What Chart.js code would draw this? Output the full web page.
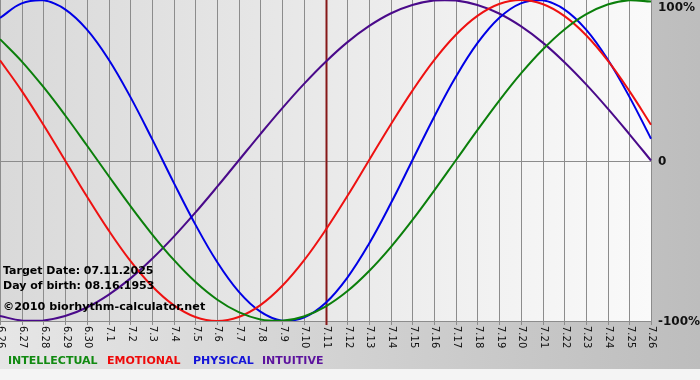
<!DOCTYPE html>
<html>
<head>
<meta charset="utf-8">
<script src="https://cdn.jsdelivr.net/npm/chart.js@4"></script>
<style>
html,body{margin:0;padding:0;background:#ffffff;}
canvas{display:block;}
</style>
</head>
<body>
<canvas id="c" width="700" height="380"></canvas>
<script>
// ---- Data (percent) ----
const days = ['6.26','6.27','6.28','6.29','6.30','7.1','7.2','7.3','7.4','7.5','7.6','7.7','7.8','7.9','7.10','7.11',
  '7.12','7.13','7.14','7.15','7.16','7.17','7.18','7.19','7.20','7.21','7.22','7.23','7.24','7.25','7.26'];
const intellectual = [75.6,61.8,45.8,28.2,9.5,-9.5,-28.2,-45.8,-61.8,-75.6,-86.6,-94.5,-99.0,-99.9,-97.2,-91.0,
  -81.5,-69.0,-54.1,-37.2,-18.9,0,18.9,37.2,54.1,69.0,81.5,91.0,97.2,99.9,99.0];
const emotional = [62.4,43.4,22.3,0,-22.3,-43.4,-62.4,-78.2,-90.1,-97.5,-100,-97.5,-90.1,-78.2,-62.4,-43.4,
  -22.3,0,22.3,43.4,62.4,78.2,90.1,97.5,100,97.5,90.1,78.2,62.4,43.4,22.3];
const physical = [88.8,97.9,99.8,94.2,81.7,63.1,39.8,13.6,-13.6,-39.8,-63.1,-81.7,-94.2,-99.8,-97.9,-88.8,
  -73.1,-52.0,-27.0,0,27.0,52.0,73.1,88.8,97.9,99.8,94.2,81.7,63.1,39.8,13.6];
const intuitive = [-96.9,-99.7,-99.7,-96.9,-91.6,-83.7,-73.6,-61.4,-47.6,-32.5,-16.5,0,16.5,32.5,47.6,61.4,
  73.6,83.7,91.6,96.9,99.7,99.7,96.9,91.6,83.7,73.6,61.4,47.6,32.5,16.5,0];
const yTickLabels = ['100%','0','-100%'];
const yTickValues = [100,0,-100];
const targetDay = '7.11';
const legendNames = ['INTELLECTUAL','EMOTIONAL','PHYSICAL','INTUITIVE'];
const infoLines = ['Target Date: 07.11.2025','Day of birth: 08.16.1953'];
const copyright = '\u00A92010 biorhythm-calculator.net';

const lineColors = ['#0b7f0b','#ee1111','#0000e6','#4a0a8a'];
const legendColors = ['#118a11','#ee0a0a','#1414d8','#5c139e'];
const legendX = [8, 107, 193, 262];
const FONT = '"DejaVu Sans", Verdana, sans-serif';

const bgPlugin = {
  id: 'bg',
  beforeDraw(chart) {
    const ctx = chart.ctx, a = chart.chartArea;
    ctx.save();
    ctx.fillStyle = '#f4f4f4';
    ctx.fillRect(0, 0, 700, 380);
    let g = ctx.createLinearGradient(0, 0, 700, 0);
    g.addColorStop(0, '#e6e6e6');
    g.addColorStop(1, '#bdbdbd');
    ctx.fillStyle = g;
    ctx.fillRect(0, 0, 700, 369);
    g = ctx.createLinearGradient(a.left, 0, a.right, 0);
    g.addColorStop(0, '#d9d9d9');
    g.addColorStop(1, '#fafafa');
    ctx.fillStyle = g;
    ctx.fillRect(a.left, a.top, a.right - a.left, a.bottom - a.top);
    ctx.restore();
  },
  beforeDatasetsDraw(chart) {
    const ctx = chart.ctx, a = chart.chartArea;
    const xs = chart.scales.x, ys = chart.scales.y;
    ctx.save();
    ctx.strokeStyle = '#8c8c8c';
    ctx.lineWidth = 1;
    days.forEach((d, i) => {
      const x = Math.round(xs.getPixelForValue(i)) + 0.5;
      ctx.beginPath();
      ctx.moveTo(x, a.top);
      ctx.lineTo(x, a.bottom + 4);
      ctx.stroke();
    });
    [0, -100].forEach(v => {
      const y = Math.round(ys.getPixelForValue(v)) + 0.5;
      ctx.beginPath();
      ctx.moveTo(a.left, y);
      ctx.lineTo(a.right, y);
      ctx.stroke();
    });
    // target day marker
    const ti = days.indexOf(targetDay);
    const tx = Math.round(xs.getPixelForValue(ti)) + 0.5;
    ctx.strokeStyle = '#861818';
    ctx.lineWidth = 2;
    ctx.beginPath();
    ctx.moveTo(tx, a.top);
    ctx.lineTo(tx, a.bottom + 4);
    ctx.stroke();
    ctx.restore();
  },
  afterDatasetsDraw(chart) {
    const ctx = chart.ctx, a = chart.chartArea;
    const xs = chart.scales.x, ys = chart.scales.y;
    ctx.save();
    // x tick labels, rotated clockwise
    ctx.fillStyle = '#111111';
    ctx.font = '10px ' + FONT;
    ctx.textAlign = 'left';
    ctx.textBaseline = 'middle';
    days.forEach((d, i) => {
      const x = xs.getPixelForValue(i);
      ctx.save();
      ctx.translate(x + 1, a.bottom + 5);
      ctx.rotate(Math.PI / 2);
      ctx.fillText(d, 0, 0);
      ctx.restore();
    });
    // y labels on the right
    ctx.font = 'bold 12px ' + FONT;
    ctx.fillStyle = '#111111';
    yTickValues.forEach((v, i) => {
      let y = ys.getPixelForValue(v);
      if (v === 100) y += 7;
      ctx.fillText(yTickLabels[i], a.right + 7, y + 1);
    });
    // info text
    ctx.font = 'bold 11px ' + FONT;
    ctx.fillStyle = '#000000';
    ctx.fillText(infoLines[0], 3, 271);
    ctx.fillText(infoLines[1], 3, 286);
    ctx.font = 'bold 11.2px ' + FONT;
    ctx.fillText(copyright, 3, 307);
    // legend
    ctx.font = 'bold 11px ' + FONT;
    legendNames.forEach((n, i) => {
      ctx.fillStyle = legendColors[i];
      ctx.fillText(n, legendX[i], 361);
    });
    ctx.restore();
  }
};

new Chart(document.getElementById('c'), {
  type: 'line',
  data: {
    labels: days,
    datasets: [
      {label: legendNames[0], data: intellectual, borderColor: lineColors[0]},
      {label: legendNames[1], data: emotional, borderColor: lineColors[1]},
      {label: legendNames[2], data: physical, borderColor: lineColors[2]},
      {label: legendNames[3], data: intuitive, borderColor: lineColors[3]}
    ]
  },
  options: {
    responsive: false,
    animation: false,
    devicePixelRatio: 1,
    layout: {padding: {left: 0, top: 0, right: 49, bottom: 59}},
    elements: {
      line: {borderWidth: 2, tension: 0.4, fill: false},
      point: {radius: 0, hoverRadius: 0}
    },
    plugins: {legend: {display: false}, tooltip: {enabled: false}},
    scales: {
      x: {type: 'category', display: false, offset: false},
      y: {display: false, min: -100, max: 100}
    }
  },
  plugins: [bgPlugin]
});
</script>
</body>
</html>
